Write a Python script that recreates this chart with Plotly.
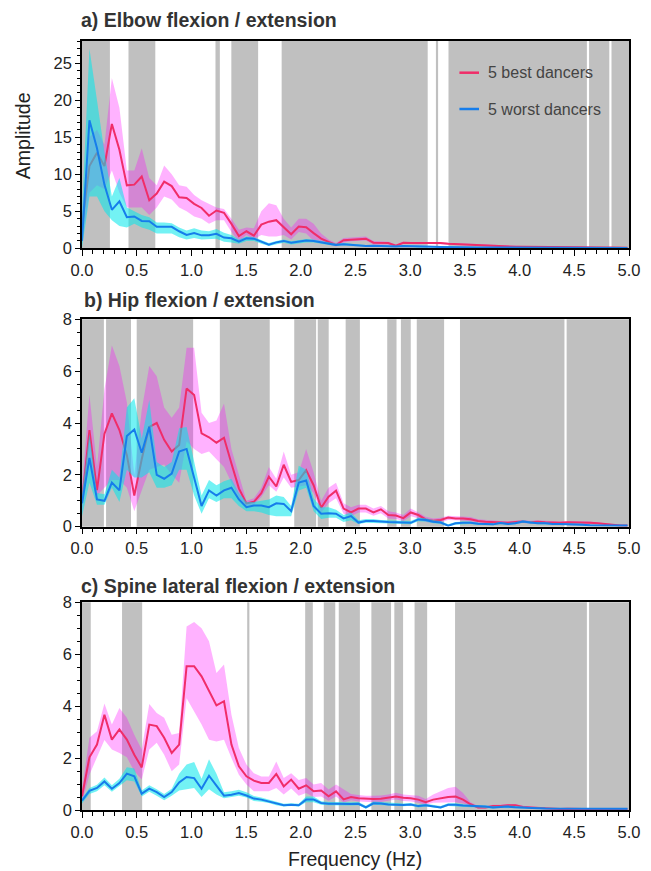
import plotly.graph_objects as go
from plotly.subplots import make_subplots

# ---------------- data ----------------
freq = [0, 0.068, 0.137, 0.205, 0.273, 0.342, 0.41, 0.478, 0.546, 0.615, 0.683, 0.751, 0.82, 0.888,
        0.956, 1.025, 1.093, 1.161, 1.229, 1.298, 1.366, 1.434, 1.503, 1.571, 1.639, 1.708, 1.776,
        1.844, 1.912, 1.981, 2.049, 2.117, 2.186, 2.254, 2.322, 2.391, 2.459, 2.527, 2.595, 2.664,
        2.732, 2.8, 2.869, 2.937, 3.005, 3.074, 3.142, 3.21, 3.278, 3.347, 3.415, 3.483, 3.552, 3.62,
        3.688, 3.757, 3.825, 3.893, 3.961, 4.03, 4.098, 4.166, 4.235, 4.303, 4.371, 4.44, 4.508,
        4.576, 4.644, 4.713, 4.781, 4.849, 4.918, 4.986]

# Panel a) Elbow
a_best = [3.0, 11.1, 12.9, 11.1, 16.8, 13.3, 8.5, 8.6, 9.7, 6.5, 7.4, 9.0, 8.4, 6.9, 6.8, 6.0, 5.45,
          4.4, 5.1, 4.8, 3.3, 1.65, 2.3, 1.7, 3.2, 3.6, 3.8, 2.8, 1.9, 2.95, 2.85, 2.05, 1.3, 0.85,
          0.45, 1.1, 1.2, 1.3, 1.3, 0.75, 0.7, 0.7, 0.35, 0.75, 0.7, 0.7, 0.75, 0.7, 0.7, 0.6, 0.55,
          0.5, 0.45, 0.45, 0.35, 0.3, 0.25, 0.2, 0.2, 0.22, 0.22, 0.2, 0.2, 0.15, 0.13, 0.13, 0.13,
          0.13, 0.13, 0.12, 0.12, 0.1, 0.1, 0.06]
a_best_hi = [5.0, 15.0, 16.0, 14.0, 23.0, 19.0, 10.5, 10.5, 13.5, 9.5, 8.5, 11.2, 10.0, 8.5, 8.3, 7.2,
             6.5, 6.0, 5.5, 5.3, 4.0, 2.5, 2.8, 2.7, 5.0, 6.1, 5.8, 4.0, 2.8, 4.0, 4.0, 3.3, 2.0, 1.2,
             0.7, 1.4, 1.5, 1.6, 1.6, 1.0, 0.9, 0.9, 0.5, 0.9, 0.85, 0.85, 0.9, 0.85, 0.85, 0.75, 0.7,
             0.65, 0.6, 0.55, 0.45, 0.4, 0.35, 0.3, 0.3, 0.3, 0.3, 0.28, 0.28, 0.22, 0.2, 0.2, 0.2,
             0.2, 0.2, 0.18, 0.18, 0.15, 0.15, 0.1]
a_best_lo = [1.0, 7.5, 8.5, 8.0, 10.5, 7.5, 5.5, 5.5, 5.5, 4.5, 5.5, 7.0, 6.6, 5.5, 5.0, 4.3, 4.0,
             3.3, 3.8, 3.8, 2.2, 0.9, 1.8, 1.2, 1.8, 1.6, 1.6, 1.8, 1.2, 2.2, 2.0, 1.0, 0.7, 0.5,
             0.25, 0.8, 0.95, 1.05, 1.05, 0.5, 0.5, 0.5, 0.2, 0.6, 0.55, 0.55, 0.6, 0.55, 0.55, 0.45,
             0.4, 0.35, 0.3, 0.3, 0.25, 0.2, 0.15, 0.12, 0.12, 0.14, 0.14, 0.12, 0.12, 0.08, 0.08,
             0.08, 0.08, 0.08, 0.08, 0.07, 0.07, 0.05, 0.05, 0.03]
a_worst = [1.0, 17.3, 13.5, 8.6, 5.2, 6.35, 4.2, 4.3, 3.7, 3.65, 2.9, 2.9, 2.9, 2.3, 1.8, 2.05, 1.75,
           1.75, 1.95, 1.45, 1.35, 0.9, 1.35, 1.3, 0.85, 0.5, 0.8, 1.0, 0.75, 0.9, 1.05, 1.0, 0.8,
           0.65, 0.45, 0.55, 0.45, 0.3, 0.3, 0.35, 0.3, 0.28, 0.25, 0.3, 0.25, 0.2, 0.2, 0.2, 0.18,
           0.15, 0.15, 0.12, 0.1, 0.1, 0.12, 0.12, 0.1, 0.1, 0.1, 0.08, 0.1, 0.1, 0.08, 0.08, 0.08,
           0.06, 0.06, 0.08, 0.08, 0.06, 0.05, 0.05, 0.05, 0.04]
a_worst_hi = [5.0, 27.0, 20.0, 13.0, 7.0, 9.5, 5.5, 5.0, 4.5, 4.2, 3.5, 3.5, 3.4, 2.8, 2.4, 2.7, 2.4,
              2.3, 2.6, 2.1, 1.8, 1.2, 1.6, 1.5, 1.1, 0.7, 1.0, 1.2, 0.95, 1.1, 1.25, 1.2, 1.0, 0.85,
              0.65, 0.7, 0.6, 0.45, 0.45, 0.45, 0.4, 0.38, 0.35, 0.4, 0.35, 0.3, 0.3, 0.3, 0.27,
              0.23, 0.23, 0.2, 0.17, 0.17, 0.19, 0.19, 0.16, 0.16, 0.16, 0.13, 0.15, 0.15, 0.13,
              0.13, 0.13, 0.1, 0.1, 0.12, 0.12, 0.1, 0.09, 0.09, 0.09, 0.07]
a_worst_lo = [0.0, 7.0, 7.0, 5.0, 3.8, 3.0, 2.8, 3.3, 2.8, 2.5, 2.0, 2.0, 2.0, 1.5, 1.2, 1.4, 1.2,
              1.2, 1.3, 0.9, 0.8, 0.6, 1.0, 1.0, 0.6, 0.3, 0.55, 0.75, 0.5, 0.65, 0.8, 0.8, 0.6,
              0.45, 0.3, 0.4, 0.3, 0.18, 0.18, 0.22, 0.2, 0.18, 0.16, 0.2, 0.16, 0.12, 0.12, 0.12,
              0.1, 0.08, 0.08, 0.06, 0.05, 0.05, 0.06, 0.06, 0.05, 0.05, 0.05, 0.04, 0.05, 0.05,
              0.04, 0.04, 0.04, 0.03, 0.03, 0.04, 0.04, 0.03, 0.02, 0.02, 0.02, 0.02]

# Panel b) Hip
b_best = [0.96, 3.73, 1.41, 3.58, 4.37, 3.73, 2.76, 1.2, 2.6, 3.85, 4.0, 3.35, 2.9, 3.15, 5.33, 5.08,
          3.6, 3.45, 3.24, 3.43, 2.44, 1.48, 0.9, 0.96, 1.29, 1.93, 1.55, 2.39, 1.73, 1.8, 2.18, 1.6,
          0.73, 1.16, 1.39, 0.7, 0.55, 0.7, 0.7, 0.55, 0.67, 0.45, 0.43, 0.33, 0.55, 0.45, 0.28,
          0.23, 0.26, 0.35, 0.32, 0.32, 0.29, 0.22, 0.19, 0.17, 0.16, 0.15, 0.18, 0.2, 0.17, 0.19,
          0.17, 0.16, 0.15, 0.17, 0.17, 0.16, 0.15, 0.13, 0.1, 0.07, 0.05, 0.05]
b_best_hi = [1.5, 5.1, 2.3, 5.3, 7.0, 6.2, 4.8, 2.0, 4.5, 6.2, 5.8, 4.6, 4.2, 4.6, 6.9, 6.9, 4.4, 4.0,
             4.1, 4.75, 3.0, 2.0, 1.0, 1.1, 1.5, 2.3, 1.85, 2.9, 2.0, 2.1, 3.0, 2.1, 1.0, 1.5, 1.7,
             0.9, 0.75, 0.85, 0.85, 0.7, 0.8, 0.6, 0.55, 0.45, 0.7, 0.55, 0.38, 0.32, 0.35, 0.42,
             0.4, 0.4, 0.37, 0.29, 0.26, 0.24, 0.22, 0.21, 0.24, 0.26, 0.23, 0.25, 0.23, 0.21, 0.2,
             0.22, 0.22, 0.21, 0.2, 0.17, 0.14, 0.1, 0.07, 0.07]
b_best_lo = [0.5, 2.6, 1.2, 1.5, 1.8, 1.8, 1.5, 0.6, 1.4, 2.2, 2.3, 2.4, 2.0, 1.7, 3.3, 3.0, 2.8, 2.9,
             2.6, 2.3, 1.7, 1.1, 0.8, 0.85, 1.15, 1.6, 1.35, 1.9, 1.5, 1.55, 1.6, 1.3, 0.55, 0.9, 1.1,
             0.5, 0.4, 0.55, 0.55, 0.42, 0.52, 0.32, 0.3, 0.22, 0.4, 0.33, 0.18, 0.15, 0.17, 0.26,
             0.24, 0.24, 0.21, 0.15, 0.12, 0.1, 0.1, 0.09, 0.12, 0.14, 0.11, 0.13, 0.11, 0.1, 0.1,
             0.12, 0.12, 0.11, 0.1, 0.09, 0.06, 0.04, 0.03, 0.03]
b_worst = [0.9, 2.65, 1.05, 1.0, 1.7, 1.4, 3.5, 3.75, 2.85, 3.85, 2.0, 1.85, 2.05, 2.9, 3.0, 1.9, 0.8,
           1.4, 1.2, 1.4, 1.5, 1.05, 0.75, 0.82, 0.82, 0.75, 0.9, 0.88, 0.6, 1.7, 1.78, 0.8, 0.5,
           0.52, 0.5, 0.32, 0.41, 0.16, 0.22, 0.22, 0.19, 0.18, 0.17, 0.16, 0.15, 0.28, 0.26, 0.19,
           0.16, 0.04, 0.13, 0.15, 0.15, 0.11, 0.11, 0.09, 0.14, 0.1, 0.13, 0.2, 0.16, 0.13, 0.13,
           0.1, 0.1, 0.1, 0.1, 0.08, 0.06, 0.05, 0.05, 0.05, 0.05, 0.05]
b_worst_hi = [1.3, 3.6, 1.3, 1.25, 2.2, 1.9, 4.6, 4.95, 3.4, 4.9, 2.5, 2.3, 2.5, 3.8, 3.85, 2.5, 1.2,
              1.8, 1.6, 1.75, 1.85, 1.3, 0.95, 0.95, 1.0, 1.05, 1.2, 1.15, 0.8, 2.35, 2.2, 1.1, 0.75,
              0.75, 0.65, 0.45, 0.55, 0.25, 0.3, 0.3, 0.26, 0.25, 0.24, 0.23, 0.22, 0.35, 0.33, 0.26,
              0.22, 0.09, 0.18, 0.2, 0.2, 0.15, 0.15, 0.13, 0.18, 0.14, 0.17, 0.25, 0.21, 0.17, 0.17,
              0.13, 0.13, 0.13, 0.13, 0.11, 0.08, 0.07, 0.07, 0.07, 0.07, 0.07]
b_worst_lo = [0.4, 1.7, 0.85, 0.85, 1.5, 0.95, 2.2, 1.9, 1.9, 2.1, 1.5, 1.5, 1.6, 2.2, 2.2, 1.2, 0.5,
              1.1, 0.95, 1.1, 1.1, 0.8, 0.6, 0.6, 0.55, 0.45, 0.4, 0.4, 0.4, 1.4, 1.5, 0.6, 0.3, 0.35,
              0.35, 0.18, 0.25, 0.1, 0.15, 0.15, 0.13, 0.12, 0.11, 0.1, 0.09, 0.21, 0.19, 0.13, 0.1,
              0.02, 0.08, 0.1, 0.1, 0.07, 0.07, 0.06, 0.1, 0.07, 0.09, 0.15, 0.11, 0.09, 0.09, 0.07,
              0.07, 0.07, 0.07, 0.05, 0.04, 0.03, 0.03, 0.03, 0.03, 0.03]

# Panel c) Spine
c_best = [0.53, 2.03, 2.52, 3.67, 2.71, 3.1, 2.71, 2.13, 1.64, 3.29, 3.23, 2.78, 2.2, 2.52, 5.54, 5.54,
          5.15, 4.57, 4.03, 4.19, 2.52, 1.68, 1.3, 1.13, 1.04, 1.04, 1.39, 0.91, 1.17, 0.82, 0.95,
          0.72, 0.75, 0.53, 0.72, 0.41, 0.5, 0.45, 0.43, 0.42, 0.43, 0.47, 0.52, 0.47, 0.45, 0.4,
          0.3, 0.4, 0.45, 0.5, 0.52, 0.4, 0.22, 0.1, 0.1, 0.15, 0.15, 0.18, 0.18, 0.12, 0.1, 0.08,
          0.06, 0.06, 0.04, 0.05, 0.04, 0.04, 0.04, 0.03, 0.04, 0.05, 0.04, 0.04]
c_best_hi = [0.8, 2.78, 3.03, 4.1, 3.29, 3.93, 3.55, 2.9, 2.33, 4.08, 3.74, 3.55, 2.9, 2.97, 7.07, 7.24,
             7.0, 6.5, 5.28, 5.6, 3.67, 2.39, 1.75, 1.42, 1.29, 1.29, 1.87, 1.23, 1.42, 1.16, 1.23,
             0.98, 1.04, 0.79, 0.98, 0.79, 0.62, 0.58, 0.55, 0.55, 0.56, 0.6, 0.66, 0.6, 0.58, 0.55,
             0.42, 0.6, 0.72, 0.85, 0.9, 0.65, 0.3, 0.15, 0.14, 0.2, 0.2, 0.23, 0.23, 0.16, 0.13,
             0.11, 0.08, 0.08, 0.06, 0.07, 0.06, 0.06, 0.06, 0.05, 0.06, 0.07, 0.06, 0.06]
c_best_lo = [0.3, 1.36, 2.0, 2.7, 2.33, 2.2, 2.03, 1.49, 1.17, 2.33, 2.59, 2.13, 1.49, 1.75, 4.3, 3.8,
             3.29, 2.71, 2.64, 2.71, 2.0, 1.36, 0.98, 0.72, 0.72, 0.72, 0.85, 0.6, 0.83, 0.55, 0.65,
             0.5, 0.52, 0.36, 0.52, 0.29, 0.38, 0.33, 0.32, 0.3, 0.31, 0.35, 0.4, 0.35, 0.33, 0.28,
             0.2, 0.28, 0.3, 0.3, 0.3, 0.25, 0.15, 0.06, 0.06, 0.1, 0.1, 0.13, 0.13, 0.08, 0.07,
             0.05, 0.04, 0.04, 0.02, 0.03, 0.02, 0.02, 0.02, 0.01, 0.02, 0.03, 0.02, 0.02]
c_worst = [0.36, 0.74, 0.85, 1.1, 0.82, 1.04, 1.4, 1.3, 0.63, 0.82, 0.69, 0.5, 0.69, 1.06, 1.27, 1.23,
           0.82, 1.32, 0.94, 0.55, 0.59, 0.65, 0.56, 0.44, 0.4, 0.33, 0.24, 0.18, 0.2, 0.18, 0.4,
           0.4, 0.27, 0.24, 0.24, 0.23, 0.23, 0.24, 0.1, 0.26, 0.25, 0.21, 0.2, 0.19, 0.21, 0.15,
           0.18, 0.15, 0.1, 0.2, 0.2, 0.17, 0.16, 0.15, 0.13, 0.1, 0.12, 0.13, 0.11, 0.09, 0.08,
           0.07, 0.06, 0.06, 0.06, 0.05, 0.04, 0.04, 0.04, 0.04, 0.04, 0.04, 0.05, 0.05]
c_worst_hi = [0.45, 0.85, 0.97, 1.25, 0.95, 1.2, 1.65, 1.6, 0.75, 0.95, 0.8, 0.62, 0.82, 1.4, 1.75,
              1.85, 1.2, 1.95, 1.4, 0.68, 0.72, 0.78, 0.68, 0.54, 0.48, 0.4, 0.3, 0.24, 0.26, 0.24,
              0.52, 0.52, 0.34, 0.31, 0.31, 0.3, 0.3, 0.31, 0.16, 0.33, 0.31, 0.27, 0.26, 0.25, 0.27,
              0.2, 0.24, 0.2, 0.15, 0.26, 0.26, 0.22, 0.21, 0.2, 0.17, 0.14, 0.16, 0.17, 0.15, 0.12,
              0.11, 0.1, 0.09, 0.09, 0.09, 0.08, 0.06, 0.06, 0.06, 0.06, 0.06, 0.06, 0.07, 0.07]
c_worst_lo = [0.25, 0.62, 0.72, 0.95, 0.7, 0.92, 1.15, 1.1, 0.52, 0.7, 0.55, 0.38, 0.55, 0.75, 0.8,
              0.85, 0.5, 0.8, 0.6, 0.45, 0.5, 0.55, 0.48, 0.35, 0.32, 0.27, 0.18, 0.13, 0.15, 0.13,
              0.3, 0.3, 0.2, 0.18, 0.18, 0.17, 0.17, 0.18, 0.05, 0.2, 0.19, 0.16, 0.15, 0.14, 0.16,
              0.1, 0.13, 0.1, 0.06, 0.15, 0.15, 0.12, 0.11, 0.1, 0.09, 0.06, 0.08, 0.09, 0.07, 0.06,
              0.05, 0.04, 0.03, 0.03, 0.03, 0.03, 0.02, 0.02, 0.02, 0.02, 0.02, 0.02, 0.03, 0.03]

# significant (grey) frequency ranges, Hz
grey_a = [(0, 0.255), (0.425, 0.67), (1.22, 1.26), (1.365, 1.61), (1.825, 3.16), (3.235, 3.255),
          (3.35, 4.615), (4.635, 4.82), (4.84, 5.0)]
grey_b = [(0, 0.2), (0.22, 0.448), (0.5, 1.016), (1.26, 1.716), (1.94, 2.14), (2.155, 2.255),
          (2.41, 2.54), (2.79, 2.875), (2.915, 3.005), (3.06, 3.31), (3.455, 4.41), (4.43, 5.0)]
grey_c = [(0, 0.08), (0.366, 0.55), (1.51, 1.53), (2.04, 2.11), (2.21, 2.315), (2.347, 2.54),
          (2.645, 2.825), (2.855, 2.935), (3.04, 3.155), (3.41, 4.615), (4.635, 5.0)]

titles = ["a) Elbow flexion / extension", "b) Hip flexion / extension",
          "c) Spine lateral flexion / extension"]
legend_names = ["5 best dancers", "5 worst dancers"]

panels = [
    (a_best, a_best_lo, a_best_hi, a_worst, a_worst_lo, a_worst_hi, grey_a, 28, 5, 1),
    (b_best, b_best_lo, b_best_hi, b_worst, b_worst_lo, b_worst_hi, grey_b, 8, 2, 0.5),
    (c_best, c_best_lo, c_best_hi, c_worst, c_worst_lo, c_worst_hi, grey_c, 8, 2, 0.5),
]
for p in panels:
    for arr in p[:6]:
        assert len(arr) == len(freq), len(arr)

# ---------------- figure ----------------
OFF = 8  # page body margin
W, H = 651 - OFF, 871 - OFF
ML, MR, MT, MB = 82 - OFF, 11, 41 - OFF, 61
PH = H - MT - MB
PW = W - ML - MR


def py(pix):  # reference-pixel y -> paper
    return (H - MB - (pix - OFF)) / PH


def px(pix):  # reference-pixel x -> paper
    return (pix - OFF - ML) / PW


domains = [[py(248.3), 1.0], [py(526.7), py(319.3)], [0.0, py(602.3)]]

RED = "rgb(240,45,105)"
BLUE = "rgb(22,125,235)"
PINK = "rgba(255,0,255,0.30)"
CYAN = "rgba(0,232,235,0.55)"
FONT = "Arial, Liberation Sans, sans-serif"

fig = make_subplots(rows=3, cols=1)
shapes = []
for k, (best, blo, bhi, worst, wlo, whi, grey, ymax, dt, mdt) in enumerate(panels):
    r = k + 1
    xs = freq + freq[::-1]
    fig.add_trace(go.Scatter(x=xs, y=bhi + blo[::-1], fill="toself", fillcolor=PINK,
                             line=dict(width=0), hoverinfo="skip", showlegend=False), row=r, col=1)
    fig.add_trace(go.Scatter(x=freq, y=best, mode="lines", line=dict(color=RED, width=2),
                             showlegend=False), row=r, col=1)
    fig.add_trace(go.Scatter(x=xs, y=whi + wlo[::-1], fill="toself", fillcolor=CYAN,
                             line=dict(width=0), hoverinfo="skip", showlegend=False), row=r, col=1)
    fig.add_trace(go.Scatter(x=freq, y=worst, mode="lines", line=dict(color=BLUE, width=2),
                             showlegend=False), row=r, col=1)
    sfx = "" if r == 1 else str(r)
    for (g0, g1) in grey:
        shapes.append(dict(type="rect", xref="x" + sfx, yref="y" + sfx + " domain",
                           x0=g0, x1=g1, y0=0, y1=1, fillcolor="#c0c0c0",
                           line=dict(width=0), layer="below"))
    fig.update_xaxes(range=[0, 5], domain=[0, 1], dtick=0.5, tickformat=".1f",
                     ticks="outside", ticklen=6, tickwidth=1.2, tickcolor="black",
                     minor=dict(dtick=0.1, ticks="outside", ticklen=4, tickwidth=1, tickcolor="black"),
                     showline=True, linecolor="black", linewidth=1.5, mirror=True,
                     showgrid=False, zeroline=False,
                     tickfont=dict(family=FONT, size=16.5, color="#222"), row=r, col=1)
    fig.update_yaxes(range=[0, ymax], domain=domains[k], dtick=dt,
                     ticks="outside", ticklen=5, tickwidth=1.2, tickcolor="black",
                     minor=dict(dtick=mdt, ticks="outside", ticklen=3, tickwidth=1, tickcolor="black"),
                     showline=True, linecolor="black", linewidth=1.5, mirror=True,
                     showgrid=False, zeroline=False,
                     tickfont=dict(family=FONT, size=16.5, color="#222"), row=r, col=1)

# legend (drawn inside panel a)
leg_y = [py(72.7), py(109)]
for name, col, yy in zip(legend_names, [RED, BLUE], leg_y):
    shapes.append(dict(type="line", xref="paper", yref="paper", x0=px(467), x1=px(487),
                       y0=yy, y1=yy, line=dict(color=col, width=2.5)))

annotations = []
for name, yy in zip(legend_names, leg_y):
    annotations.append(dict(text=name, xref="paper", yref="paper", x=px(494), y=yy,
                            xanchor="left", yanchor="middle", showarrow=False,
                            font=dict(family=FONT, size=16, color="#444")))

title_pos = [(79, 20), (81.5, 300), (79, 586)]
for t, (tx, ty) in zip(titles, title_pos):
    annotations.append(dict(text="<b>" + t + "</b>", xref="paper", yref="paper", x=px(tx), y=py(ty),
                            xanchor="left", yanchor="middle", showarrow=False,
                            font=dict(family=FONT, size=19.5, color="#333")))

annotations.append(dict(text="Amplitude", xref="paper", yref="paper", x=px(22), y=py(136),
                        textangle=-90, xanchor="center", yanchor="middle", showarrow=False,
                        font=dict(family=FONT, size=19.5, color="#222")))
annotations.append(dict(text="Frequency (Hz)", xref="paper", yref="paper", x=px(360), y=py(859),
                        xanchor="center", yanchor="middle", showarrow=False,
                        font=dict(family=FONT, size=19.5, color="#222")))

fig.update_layout(width=W, height=H, margin=dict(l=ML, r=MR, t=MT, b=MB),
                  paper_bgcolor="white", plot_bgcolor="white", showlegend=False,
                  shapes=shapes, annotations=annotations, font=dict(family=FONT))

fig.write_html("out.html")
